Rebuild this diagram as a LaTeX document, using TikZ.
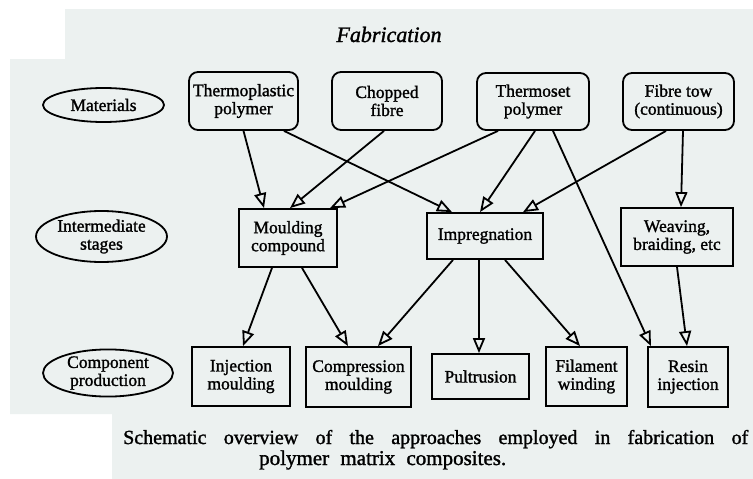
\documentclass[tikz,border=0pt]{standalone}
\usepackage{fontspec}
\setmainfont{Liberation Serif}[FakeBold=1.4]
\usetikzlibrary{arrows.meta,shapes.geometric}
\definecolor{paper}{RGB}{236,241,240}
\begin{document}
\begin{tikzpicture}[x=1pt,y=-1pt,
  lbl/.style={font=\fontsize{17.5}{18}\selectfont, align=center, inner sep=0pt},
  matbox/.style={lbl, draw, line width=1.8pt, rounded corners=9pt},
  procbox/.style={lbl, draw, line width=1.8pt},
  rowtag/.style={lbl, draw, ellipse, line width=1.8pt},
  flow/.style={line width=1.8pt, -{Triangle[open,length=15pt,width=12pt]}},
  captext/.style={anchor=base west, inner sep=0pt, font=\fontsize{20}{22}\selectfont}
]
\useasboundingbox (0,0) rectangle (753,479);
\fill[white] (0,0) rectangle (753,479);
\fill[paper] (65,9) -- (753,9) -- (753,479) -- (112,479) -- (112,414)
  -- (10,414) -- (10,59) -- (65,59) -- cycle;

% heading
\node[anchor=base, inner sep=0pt, font=\fontsize{22}{26}\selectfont\itshape] (head) at (389,42) {Fabrication};

% row labels
\node[rowtag, minimum width=121pt, minimum height=34pt] (rmat) at (103.5,105) {Materials};
\node[rowtag, minimum width=131pt, minimum height=51pt] (rint) at (101.5,236.5) {Intermediate\\stages};
\node[rowtag, minimum width=130pt, minimum height=46pt] (rcomp) at (108,373) {Component\\production};

% materials
\node[matbox, minimum width=109pt, minimum height=58pt] (tp) at (243.5,101) {Thermoplastic\\polymer};
\node[matbox, minimum width=110pt, minimum height=58pt] (cf) at (387,101) {Chopped\\fibre};
\node[matbox, minimum width=112pt, minimum height=57pt] (ts) at (533,101.5) {Thermoset\\polymer};
\node[matbox, minimum width=111pt, minimum height=57pt] (ft) at (678.5,101.5) {Fibre tow\\(continuous)};

% intermediate stages
\node[procbox, minimum width=98pt, minimum height=58pt] (mc) at (288,238) {Moulding\\compound};
\node[procbox, minimum width=116pt, minimum height=46pt] (im) at (485,236) {Impregnation};
\node[procbox, minimum width=112pt, minimum height=58pt] (wv) at (677,237) {Weaving,\\braiding, etc};

% component production
\node[procbox, minimum width=98pt, minimum height=59pt] (ij) at (241,376.5) {Injection\\moulding};
\node[procbox, minimum width=105pt, minimum height=60pt] (cm) at (358.5,377) {Compression\\moulding};
\node[procbox, minimum width=97pt, minimum height=45pt] (pu) at (480.5,376.5) {Pultrusion};
\node[procbox, minimum width=81pt, minimum height=59pt] (fw) at (586.5,376.5) {Filament\\winding};
\node[procbox, minimum width=80pt, minimum height=60pt] (ri) at (688,377) {Resin\\injection};

% routes
\draw[flow] (tp.south) -- ([xshift=-24pt]mc.north);
\draw[flow] ([xshift=40.5pt]tp.south) -- ([xshift=-33pt]im.north);
\draw[flow] ([xshift=-3pt]cf.south) -- ([xshift=2pt]mc.north);
\draw[flow] ([xshift=-35pt]ts.south) -- ([xshift=42pt]mc.north);
\draw[flow] ([xshift=2pt]ts.south) -- ([xshift=-5pt]im.north);
\draw[flow] ([xshift=20pt]ts.south) -- ([xshift=-37pt]ri.north);
\draw[flow] ([xshift=-12.5pt]ft.south) -- ([xshift=38pt]im.north);
\draw[flow] ([xshift=4.5pt]ft.south) -- ([xshift=4pt]wv.north);
\draw[flow] ([xshift=-16pt]mc.south) -- ([xshift=2pt]ij.north);
\draw[flow] ([xshift=14pt]mc.south) -- ([xshift=-10.5pt]cm.north);
\draw[flow] ([xshift=-32pt]im.south) -- ([xshift=19.5pt]cm.north);
\draw[flow] ([xshift=-6pt]im.south) -- ([xshift=-1.5pt]pu.north);
\draw[flow] ([xshift=20pt]im.south) -- ([xshift=-6.5pt]fw.north);
\draw[flow] (wv.south) -- ([xshift=-1pt]ri.north);

% caption
\node[captext] (cap1) at (123,444)
  {\makebox[625pt][s]{Schematic overview of the approaches employed in fabrication of}};
\node[captext, font=\fontsize{21}{22}\selectfont] (cap2) at (259,465)
  {\makebox[247pt][s]{polymer matrix composites.}};
\end{tikzpicture}
\end{document}
